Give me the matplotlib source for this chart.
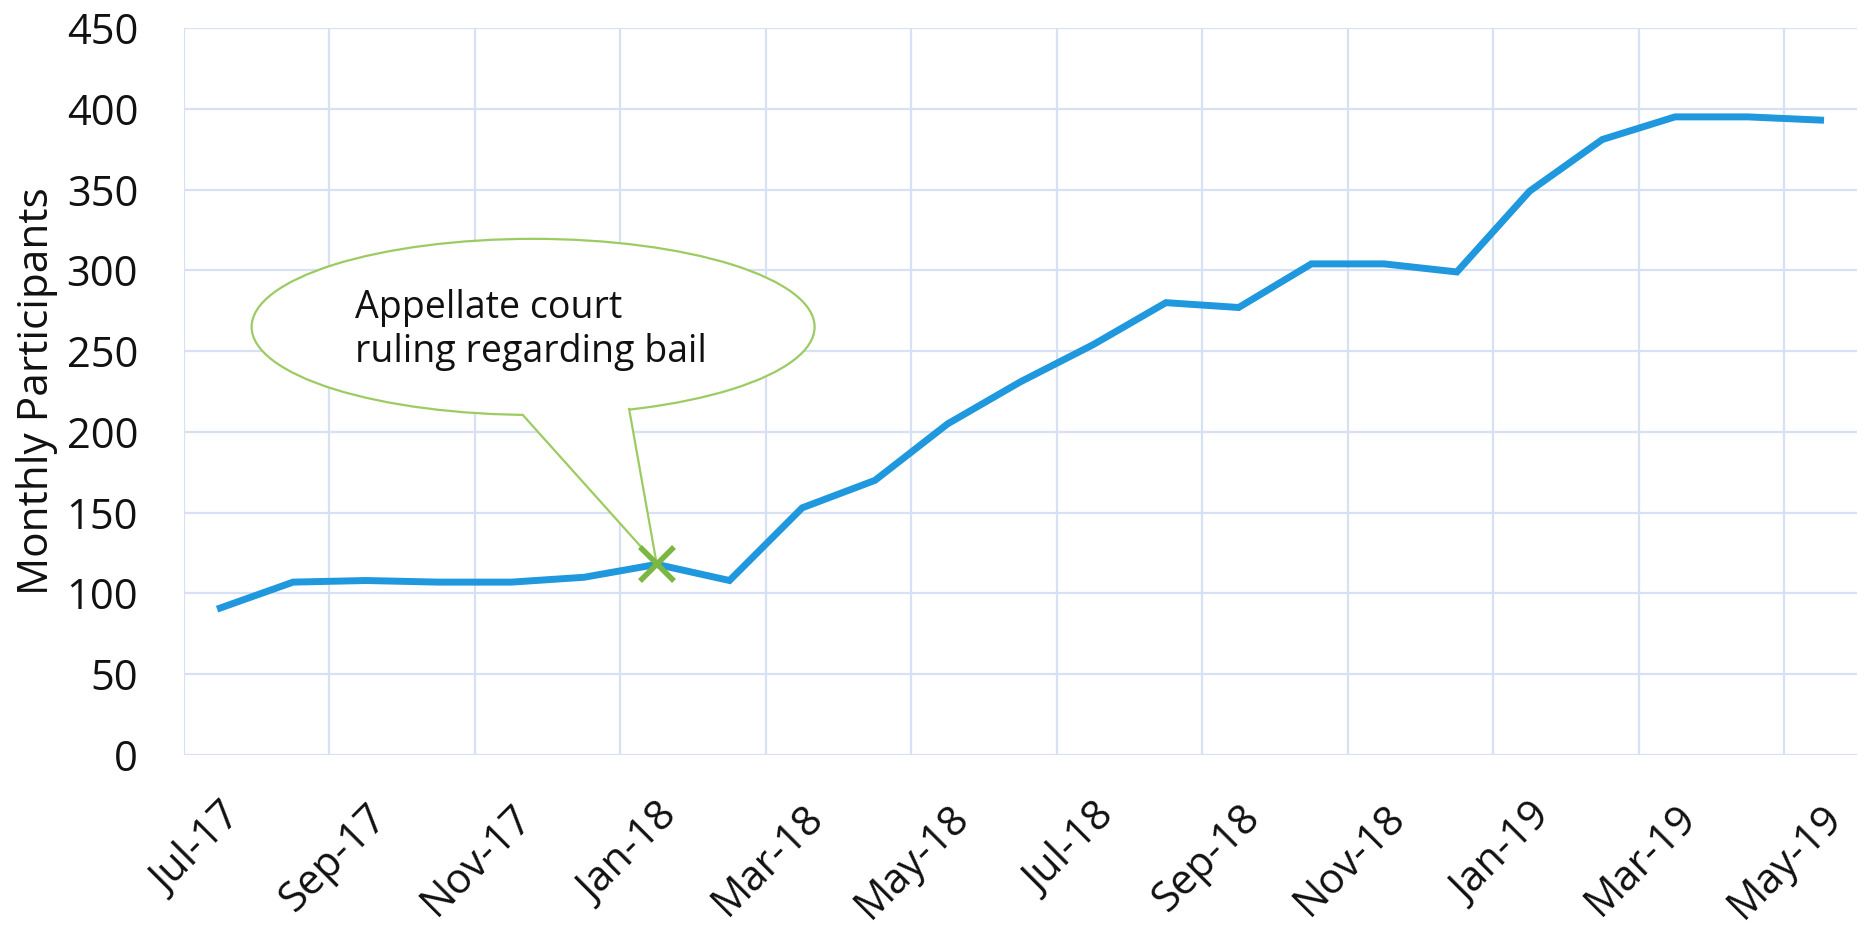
import numpy as np
import matplotlib.pyplot as plt
from matplotlib.patches import Ellipse, Polygon

months = ["Jul-17", "Aug-17", "Sep-17", "Oct-17", "Nov-17", "Dec-17",
          "Jan-18", "Feb-18", "Mar-18", "Apr-18", "May-18", "Jun-18",
          "Jul-18", "Aug-18", "Sep-18", "Oct-18", "Nov-18", "Dec-18",
          "Jan-19", "Feb-19", "Mar-19", "Apr-19", "May-19"]
participants = [91, 107, 108, 107, 107, 110,
                118, 108, 153, 170, 205, 231,
                254, 280, 277, 304, 304, 299,
                349, 381, 395, 395, 393]
event_month = "Jan-18"
event_text = "Appellate court\nruling regarding bail"

plt.rcParams['font.family'] = ['Open Sans', 'DejaVu Sans']

line_color = '#1F98DE'
grid_color = '#D8E1F3'
green = '#7BB843'
bubble_edge = '#9CCB62'
text_color = '#111111'

fig = plt.figure(figsize=(18.64, 9.25), dpi=100)
ax = fig.add_axes([0.0987, 0.1838, 0.8975, 0.7859])

x = np.arange(len(months))
ax.plot(x, participants, color=line_color, lw=5, solid_joinstyle='miter', zorder=6)

# event marker
ei = months.index(event_month)
ax.plot(ei, participants[ei], marker='x', ms=25, mew=4, color=green, zorder=8)

# callout bubble
cx, cy, cw, ch = 4.30, 265, 7.74, 109
ax.add_patch(Ellipse((cx, cy), cw, ch, facecolor='white', edgecolor=bubble_edge, lw=1.6, zorder=4))
base_l = (4.16, 210.4)
base_r = (5.62, 214.2)
tip = (ei, participants[ei])
ax.add_patch(Polygon([base_l, tip, base_r, (cx, cy)], closed=True, facecolor='white',
                     edgecolor='none', zorder=5))
ax.plot([base_l[0], tip[0], base_r[0]], [base_l[1], tip[1], base_r[1]],
        color=bubble_edge, lw=1.6, zorder=5)
ax.text(1.85, 263, event_text, ha='left', va='center', fontsize=27,
        linespacing=1.2, color=text_color, zorder=7)

# axes
ax.set_xlim(-0.5, len(months) - 0.5)
ax.set_ylim(0, 450)
ax.set_yticks(np.arange(0, 451, 50))
ax.set_xticks(x[::2])
ax.set_xticklabels(months[::2], rotation=45, ha='right', va='top', rotation_mode='anchor')
ax.tick_params(axis='y', length=0, pad=33, labelsize=30, labelcolor=text_color)
ax.tick_params(axis='x', length=0, pad=30, labelsize=30, labelcolor=text_color)

for yv in np.arange(0, 451, 50):
    ax.axhline(yv, color=grid_color, lw=1.6, zorder=1)
for xv in np.arange(-0.5, len(months) - 1, 2):
    ax.axvline(xv, color=grid_color, lw=1.6, zorder=1)

for s in ax.spines.values():
    s.set_visible(False)

ax.set_ylabel("Monthly Participants", fontsize=30.5, labelpad=6, color=text_color)

fig.savefig("out.png", dpi=100)
